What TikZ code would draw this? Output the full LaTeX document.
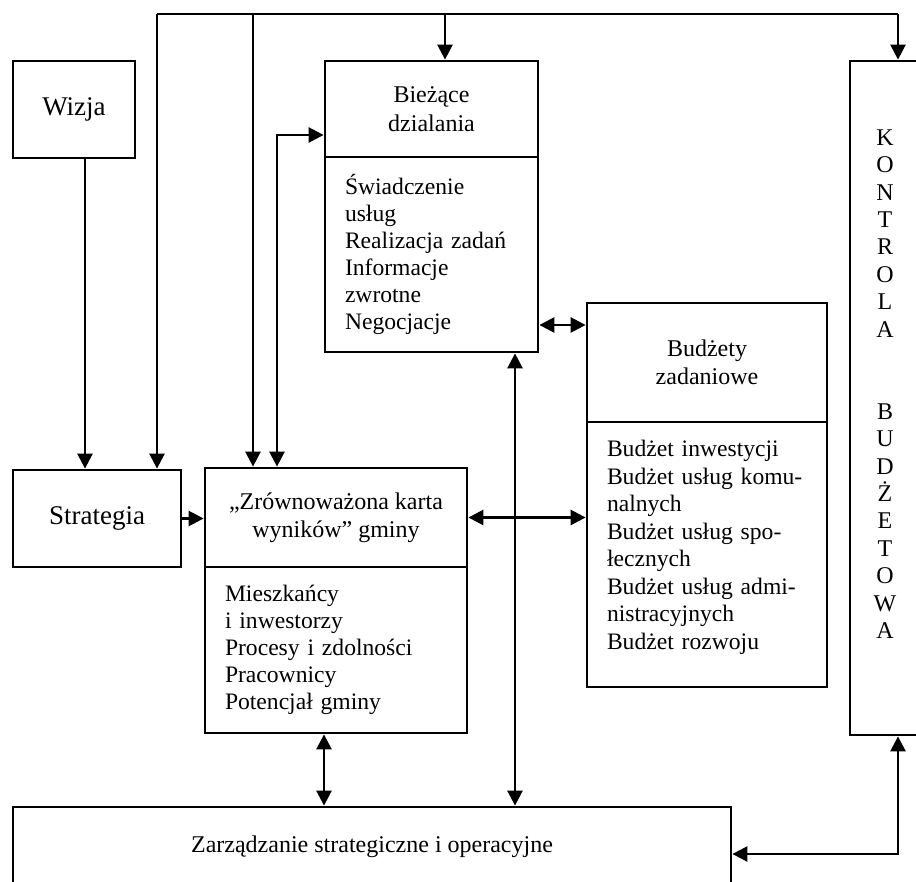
\documentclass[tikz,border=0pt]{standalone}
\usepackage{fontspec}
\setmainfont{Liberation Serif}
\usepackage{tikz}
\usetikzlibrary{arrows.meta, calc, positioning}
\tikzset{>={Triangle[length=7.5pt,width=7.5pt]}}

\begin{document}
\begin{tikzpicture}[
  x=0.5pt, y=-0.5pt,
  box/.style={draw, line width=1.4pt, inner sep=0pt, align=center, font=\fontsize{12}{14.2}\selectfont},
  listbox/.style={draw, line width=1.4pt, inner xsep=10pt, inner ysep=0pt, align=left, font=\fontsize{11.8}{13.5}\selectfont},
  flow/.style={line width=1.3pt, ->},
  both/.style={line width=1.3pt, <->},
  bus/.style={line width=1.3pt}
]

% Frame of the page
\useasboundingbox (0,0) rectangle (916,882);
\clip (0,0) rectangle (916,882);

% Left column
\node[box, minimum width=61pt, minimum height=48.5pt, font=\fontsize{13.5}{15}\selectfont] (wizja) at (74,109.5) {Wizja};
\node[box, minimum width=84pt, minimum height=48.5pt, font=\fontsize{13.5}{15}\selectfont] (strat) at (97,518.5) {Strategia};

% Scorecard
\node[box, minimum width=131pt, minimum height=49.5pt] (karta) at (336,517.5) {„Zrównoważona karta\\wyników” gminy};
\node[listbox, text width=111pt, minimum height=83pt] (kartaL) at (336,650)
  {Mieszkańcy\\i inwestorzy\\Procesy i zdolności\\Pracownicy\\Potencjał gminy};

% Current activities
\node[box, minimum width=106.5pt, minimum height=48pt] (biez) at (431.5,109) {Bieżące\\dzialania};
\node[listbox, text width=86.5pt, minimum height=97.5pt] (biezL) at (431.5,254.5)
  {Świadczenie\\usług\\Realizacja zadań\\Informacje\\zwrotne\\Negocjacje};

% Task budgets
\node[box, minimum width=120pt, minimum height=59.5pt] (bud) at (707,362.5) {Budżety\\zadaniowe};
\node[listbox, text width=100pt, minimum height=132.5pt, font=\fontsize{11.8}{13.75}\selectfont] (budL) at (707,554.5)
  {Budżet inwestycji\\Budżet usług komu-\\nalnych\\Budżet usług spo-\\łecznych\\Budżet usług admi-\\nistracyjnych\\Budżet rozwoju\rule[-9.5pt]{0pt}{1pt}};

% Budget control
\node[box, minimum width=35pt, minimum height=337pt] (kontr) at (885,398) {};
\node[font=\fontsize{12}{13.7}\selectfont, align=center, inner sep=0pt] (kontrTxt) at (885,384)
  {K\\O\\N\\T\\R\\O\\L\\A\\[27.4pt]B\\U\\D\\Ż\\E\\T\\O\\W\\A};

% Management
\node[box, minimum width=359pt, minimum height=40pt] (zarz) at (372,847) {Zarządzanie strategiczne i operacyjne};

% bus along the top
\coordinate (busL) at (157,14);
\coordinate (busK) at (253,14);
\coordinate (busB) at (445,14);
\coordinate (busR) at (898,14);
\draw[bus] (busL) -- (busR);
\draw[flow] (busL) -- (busL |- strat.north);
\draw[flow] (busK) -- (busK |- karta.north);
\draw[flow] (busB) -- (busB |- biez.north);
\draw[flow] (busR) -- (busR |- kontr.north);

% vision -> strategy -> scorecard
\coordinate (wz) at ($(wizja.south)+(11,0)$);
\draw[flow] (wz) -- (wz |- strat.north);
\draw[flow] (strat.east) -- (strat.east -| karta.west);

% scorecard <-> current activities
\coordinate (lp) at (277,135);
\draw[both] (lp |- karta.north) -- (lp) -- (lp -| biez.west);

% links to the task budgets
\draw[both] (karta.east) -- (karta.east -| budL.west);
\coordinate (bb) at ($(biezL.east)+(0,70.5)$);
\draw[both] (bb) -- (bb -| bud.west);

% links to management
\coordinate (bz) at ($(biezL.south)+(83.5,0)$);
\draw[both] (bz) -- (bz |- zarz.north);
\coordinate (kz) at ($(kartaL.south)+(-12,0)$);
\draw[both] (kz) -- (kz |- zarz.north);
\coordinate (zk) at ($(zarz.east)+(0,7)$);
\coordinate (kk) at ($(kontr.south)+(13,0)$);
\draw[both] (zk) -| (kk);

\end{tikzpicture}
\end{document}
